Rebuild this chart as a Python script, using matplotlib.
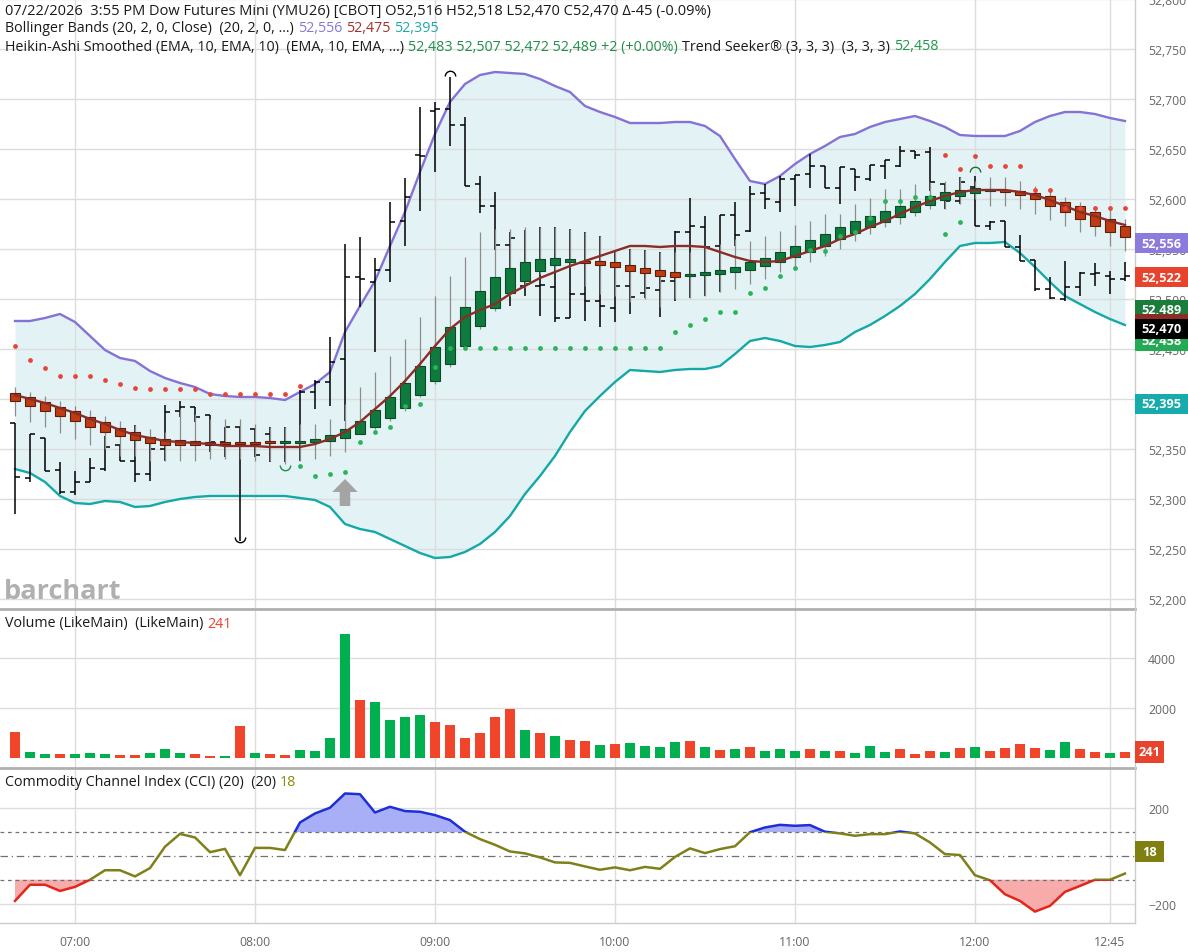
import numpy as np
import pandas as pd
import matplotlib
matplotlib.use("Agg")
import matplotlib.pyplot as plt
from matplotlib.patches import Rectangle, Polygon
from matplotlib.path import Path
from matplotlib.lines import Line2D
from matplotlib.ticker import FuncFormatter

plt.rcParams['font.family'] = ['Open Sans', 'Noto Sans', 'DejaVu Sans']

# ---- 5 minute bars, 06:40 .. 12:50 ----
times = pd.date_range("2026-07-22 06:40", periods=75, freq="5min")
tick_times = ['07:00', '08:00', '09:00', '10:00', '11:00', '12:00', '12:45']

bar_open = [52376, 52321, 52361, 52329, 52307, 52317, 52330, 52354, 52338, 52325,
            52350, 52388, 52392, 52384, 52357, 52372, 52370, 52365, 52357, 52357,
            52407, 52417, 52440, 52522, 52517, 52529, 52578, 52644, 52688, 52690,
            52674, 52615, 52593, 52554, 52513, 52513, 52512, 52481, 52505, 52498,
            52491, 52513, 52506, 52509, 52518, 52567, 52572, 52553, 52584, 52568,
            52606, 52597, 52620, 52625, 52633, 52611, 52630, 52620, 52633, 52633,
            52648, 52647, 52615, 52598, 52612, 52573, 52578, 52552, 52539, 52510,
            52500, 52512, 52525, 52523, 52520]
bar_high = [52376, 52365, 52361, 52337, 52328, 52341, 52363, 52354, 52374, 52362,
            52394, 52398, 52392, 52384, 52372, 52372, 52370, 52372, 52372, 52409,
            52419, 52462, 52555, 52562, 52541, 52597, 52621, 52692, 52697, 52722,
            52682, 52623, 52607, 52567, 52569, 52572, 52572, 52570, 52567, 52563,
            52548, 52550, 52549, 52547, 52568, 52601, 52583, 52584, 52597, 52613,
            52615, 52623, 52624, 52645, 52633, 52632, 52630, 52634, 52639, 52653,
            52648, 52652, 52615, 52622, 52623, 52578, 52578, 52564, 52539, 52522,
            52538, 52527, 52536, 52528, 52537]
bar_low = [52285, 52317, 52328, 52305, 52304, 52317, 52328, 52338, 52317, 52318,
           52338, 52382, 52377, 52347, 52342, 52258, 52342, 52337, 52337, 52338,
           52390, 52393, 52378, 52492, 52447, 52517, 52553, 52588, 52627, 52653,
           52613, 52586, 52549, 52493, 52503, 52483, 52477, 52481, 52478, 52472,
           52477, 52485, 52501, 52482, 52498, 52501, 52503, 52507, 52553, 52567,
           52590, 52587, 52593, 52611, 52611, 52595, 52608, 52618, 52620, 52632,
           52640, 52608, 52590, 52595, 52573, 52569, 52552, 52538, 52508, 52500,
           52498, 52503, 52513, 52505, 52518]
bar_close = [52322, 52365, 52328, 52307, 52317, 52331, 52352, 52338, 52325, 52350,
             52387, 52392, 52382, 52357, 52372, 52355, 52344, 52357, 52357, 52407,
             52417, 52437, 52522, 52520, 52529, 52577, 52602, 52643, 52690, 52674,
             52613, 52593, 52554, 52561, 52515, 52514, 52481, 52505, 52498, 52493,
             52513, 52502, 52511, 52518, 52567, 52573, 52552, 52584, 52564, 52605,
             52600, 52620, 52624, 52633, 52611, 52632, 52622, 52634, 52639, 52648,
             52644, 52617, 52598, 52617, 52573, 52577, 52552, 52538, 52510, 52501,
             52512, 52526, 52526, 52520, 52523]

# Heikin-Ashi smoothed
ha_open = [52406, 52402, 52397, 52392, 52388, 52382, 52377, 52371, 52367, 52362,
           52360, 52359, 52358, 52357, 52357, 52357, 52357, 52358, 52356, 52356,
           52357, 52358, 52361, 52365, 52372, 52381, 52391, 52404, 52418, 52435,
           52453, 52473, 52491, 52506, 52518, 52528, 52534, 52537, 52538, 52538,
           52537, 52534, 52531, 52529, 52527, 52523, 52524, 52525, 52527, 52529,
           52533, 52537, 52542, 52547, 52553, 52560, 52566, 52572, 52577, 52582,
           52587, 52594, 52599, 52603, 52606, 52608, 52609, 52608, 52606, 52603,
           52597, 52593, 52587, 52580, 52573]
ha_close = [52398, 52393, 52388, 52383, 52378, 52372, 52367, 52363, 52359, 52356,
            52354, 52354, 52354, 52354, 52355, 52355, 52355, 52356, 52358, 52358,
            52360, 52364, 52370, 52378, 52389, 52402, 52416, 52433, 52452, 52472,
            52492, 52508, 52522, 52531, 52537, 52540, 52541, 52540, 52536, 52534,
            52532, 52528, 52526, 52523, 52522, 52525, 52527, 52529, 52532, 52537,
            52541, 52547, 52553, 52559, 52565, 52572, 52578, 52583, 52588, 52593,
            52598, 52603, 52607, 52609, 52611, 52610, 52607, 52604, 52600, 52593,
            52587, 52580, 52573, 52567, 52562]
ha_high = [52412, 52407, 52403, 52398, 52393, 52389, 52383, 52378, 52374, 52370,
           52367, 52390, 52385, 52380, 52380, 52380, 52375, 52372, 52372, 52375,
           52375, 52380, 52395, 52412, 52427, 52443, 52460, 52482, 52503, 52523,
           52542, 52567, 52570, 52570, 52572, 52572, 52572, 52570, 52567, 52563,
           52548, 52550, 52549, 52547, 52547, 52547, 52553, 52555, 52560, 52558,
           52563, 52568, 52574, 52578, 52585, 52585, 52595, 52601, 52610, 52610,
           52615, 52617, 52618, 52622, 52618, 52622, 52622, 52618, 52613, 52611,
           52602, 52597, 52593, 52590, 52580]
ha_low = [52383, 52377, 52372, 52366, 52360, 52354, 52350, 52343, 52343, 52338,
          52338, 52338, 52338, 52340, 52340, 52340, 52338, 52338, 52335, 52338,
          52340, 52343, 52347, 52365, 52370, 52378, 52388, 52402, 52415, 52432,
          52450, 52470, 52488, 52503, 52512, 52525, 52527, 52532, 52513, 52505,
          52503, 52497, 52500, 52492, 52500, 52501, 52503, 52507, 52510, 52515,
          52520, 52527, 52530, 52537, 52543, 52550, 52558, 52565, 52572, 52575,
          52583, 52590, 52590, 52595, 52600, 52593, 52593, 52590, 52585, 52579,
          52573, 52567, 52563, 52553, 52548]

# Bollinger bands (20, 2)
bb_upper = [52478, 52478, 52481, 52485, 52477, 52463, 52449, 52441, 52438, 52428,
            52421, 52416, 52412, 52405, 52403, 52402, 52402, 52401, 52399, 52407,
            52415, 52427, 52467, 52493, 52518, 52553, 52587, 52627, 52665, 52697,
            52715, 52724, 52727, 52726, 52725, 52720, 52713, 52707, 52693, 52687,
            52682, 52676, 52676, 52676, 52677, 52677, 52673, 52663, 52640, 52618,
            52615, 52623, 52635, 52645, 52653, 52662, 52665, 52672, 52677, 52680,
            52683, 52678, 52672, 52664, 52663, 52663, 52663, 52668, 52677, 52683,
            52687, 52687, 52685, 52681, 52678]
bb_mid = [52404, 52400, 52396, 52391, 52386, 52380, 52375, 52369, 52364, 52361,
          52358, 52357, 52356, 52355, 52353, 52353, 52353, 52352, 52352, 52352,
          52355, 52360, 52367, 52377, 52390, 52403, 52418, 52435, 52453, 52470,
          52482, 52489, 52495, 52505, 52513, 52521, 52527, 52533, 52538, 52543,
          52548, 52553, 52553, 52552, 52553, 52553, 52552, 52547, 52542, 52538,
          52537, 52538, 52543, 52548, 52553, 52560, 52565, 52572, 52578, 52585,
          52592, 52598, 52603, 52607, 52609, 52609, 52609, 52607, 52604, 52599,
          52593, 52587, 52583, 52578, 52574]
bb_lower = [52330, 52326, 52317, 52303, 52296, 52295, 52298, 52297, 52292, 52293,
            52297, 52300, 52302, 52303, 52303, 52303, 52303, 52303, 52303, 52301,
            52299, 52292, 52275, 52270, 52267, 52260, 52253, 52246, 52241, 52242,
            52247, 52255, 52267, 52283, 52305, 52323, 52343, 52367, 52388, 52403,
            52417, 52429, 52428, 52427, 52429, 52430, 52430, 52433, 52445, 52458,
            52461, 52458, 52453, 52452, 52454, 52457, 52467, 52474, 52483, 52493,
            52505, 52520, 52537, 52553, 52556, 52556, 52557, 52546, 52532, 52517,
            52503, 52495, 52487, 52480, 52474]

# Trend Seeker stops
ts_down_idx = list(range(0, 20)) + list(range(62, 75))
ts_down = [52453, 52439, 52431, 52423, 52423, 52423, 52419, 52415, 52411, 52410,
           52410, 52410, 52410, 52405, 52405, 52405, 52405, 52405, 52405, 52413,
           52644, 52630, 52643, 52633, 52633, 52633, 52609, 52609, 52591, 52591,
           52591, 52591, 52591]
ts_up_idx = list(range(19, 64))
ts_up = [52333, 52323, 52325, 52327, 52357, 52367, 52372, 52393, 52395, 52432,
         52451, 52451, 52451, 52451, 52451, 52451, 52451, 52451, 52451, 52451,
         52451, 52451, 52451, 52451, 52451, 52467, 52474, 52480, 52487, 52487,
         52506, 52511, 52523, 52531, 52549, 52548, 52563, 52567, 52581, 52598,
         52598, 52602, 52602, 52565, 52577]

# swing markers (bar index, price)
swing_lows = [(15, 52262, 'black'), (18, 52334, '#1e8f4a')]
swing_highs = [(29, 52723, 'black'), (64, 52627, '#1e6f3a')]
arrow_idx, arrow_price = 22, 52320

volume = [1030, 230, 150, 150, 160, 200, 160, 120, 120, 210,
          360, 200, 170, 90, 80, 1270, 210, 170, 120, 310,
          290, 800, 4960, 2320, 2250, 1530, 1650, 1730, 1430, 1330,
          800, 1000, 1650, 1950, 1130, 990, 870, 730, 680, 520,
          560, 590, 490, 440, 640, 680, 430, 330, 350, 440,
          290, 350, 290, 350, 270, 270, 190, 470, 250, 350,
          160, 270, 230, 390, 440, 280, 410, 550, 410, 310,
          630, 350, 230, 200, 241]
volume_up = "rggrgggrrgggrrgrgrrggggrggggrrrrrrgrgrrgrggggrgrgrgggrgrgggrrrgrgrrrrggrrg"

cci = [-189, -121, -121, -147, -130, -100, -60, -60, -86, -51,
       39, 93, 78, 16, 30, -81, 34, 34, 25, 141,
       179, 203, 263, 260, 183, 207, 189, 186, 172, 151,
       102, 71, 47, 19, 11, -6, -27, -29, -44, -58,
       -48, -60, -46, -54, -4, 32, 12, 29, 41, 100,
       120, 131, 127, 130, 102, 95, 85, 92, 92, 103,
       95, 57, 8, 4, -81, -102, -161, -189, -234, -210,
       -151, -126, -100, -100, -74]

# ---- figure ----
W, H = 1188, 953
fig = plt.figure(figsize=(W / 100, H / 100), dpi=100)
fig.patch.set_facecolor('white')
RIGHT = 1135


def rect(top, bottom):
    return [0, 1 - bottom / H, RIGHT / W, (bottom - top) / H]


ax = fig.add_axes(rect(0, 610))
axv = fig.add_axes(rect(611, 769))
axc = fig.add_axes(rect(770, 924))

x = np.arange(len(times))
labels = list(times.strftime('%H:%M'))
tick_pos = [labels.index(t) for t in tick_times]
GRID = '#dcdcdc'
TICKC = '#666666'

for a in (ax, axv, axc):
    a.set_xlim(-1, 74.67)
    a.set_xticks(tick_pos)
    a.set_axisbelow(True)
    a.grid(True, color=GRID, lw=1)
    for s in a.spines.values():
        s.set_visible(False)
    a.yaxis.tick_right()
    a.tick_params(axis='y', length=0, pad=9.5, labelsize=8.8, labelcolor=TICKC)
    a.tick_params(axis='x', length=0, labelbottom=False)
axc.tick_params(axis='x', labelbottom=True, labelsize=8.8, labelcolor=TICKC, pad=9)
axc.set_xticklabels(tick_times)

# ---- price panel ----
ax.set_ylim(52190, 52800)
ax.set_yticks(np.arange(52200, 52801, 50))
ax.yaxis.set_major_formatter(FuncFormatter(lambda v, _: f"{v:,.0f}"))

ax.fill_between(x, bb_lower, bb_upper, color='#e3f3f5', lw=0, zorder=0.2)
ax.plot(x, bb_upper, color='#8473d6', lw=1.7, zorder=2)
ax.plot(x, bb_lower, color='#15a8a8', lw=1.7, zorder=2)

o, h, l, c = map(np.array, (bar_open, bar_high, bar_low, bar_close))
ax.vlines(x, l, h, color='black', lw=1.1, zorder=3)
ax.hlines(o, x - 0.35, x, color='black', lw=1.1, zorder=3)
ax.hlines(c, x, x + 0.35, color='black', lw=1.1, zorder=3)

hao, hac = np.array(ha_open), np.array(ha_close)
ax.vlines(x, ha_low, ha_high, color='#8c8c8c', lw=0.9, zorder=3.5)
up = hac >= hao
ax.bar(x[up], (hac - hao)[up], bottom=hao[up], width=0.7, color='#0f7a3d',
       edgecolor='#0a4a26', lw=0.8, zorder=4)
ax.bar(x[~up], (hao - hac)[~up], bottom=hac[~up], width=0.7, color='#bf3b12',
       edgecolor='#5c1d0a', lw=0.8, zorder=4)

ax.plot(x, bb_mid, color='#8c2c26', lw=1.7, zorder=5)

ax.scatter(ts_down_idx, ts_down, s=12, color='#e8443a', lw=0, zorder=6)
ax.scatter(ts_up_idx, ts_up, s=12, color='#2bb35a', lw=0, zorder=6)

arc_low = Path.arc(180, 360)
arc_high = Path.arc(0, 180)
for i, p, col in swing_lows:
    ax.plot(i, p, marker=arc_low, ms=7.5, mfc='none', mec=col, mew=1, zorder=6)
for i, p, col in swing_highs:
    ax.plot(i, p, marker=arc_high, ms=7.5, mfc='none', mec=col, mew=1, zorder=6)

ax.add_patch(Polygon([(arrow_idx, arrow_price), (arrow_idx - 0.85, arrow_price - 13),
                      (arrow_idx - 0.35, arrow_price - 13), (arrow_idx - 0.35, arrow_price - 27),
                      (arrow_idx + 0.35, arrow_price - 27), (arrow_idx + 0.35, arrow_price - 13),
                      (arrow_idx + 0.85, arrow_price - 13)], closed=True,
                     color='#a4a4a4', lw=0, zorder=6))

ax.text(4 / RIGHT, 18 / 610, 'barchart', transform=ax.transAxes, fontsize=19.5,
        fontweight='bold', color='#b0b0b0', ha='left', va='center')

# ---- volume panel ----
axv.set_ylim(-400, 5920)
axv.set_yticks([2000, 4000])
vcol = ['#00b04f' if k == 'g' else '#f0452b' for k in volume_up]
axv.bar(x, volume, width=0.67, color=vcol, lw=0, zorder=2)

# ---- CCI panel ----
axc.set_ylim(-282, 366)
axc.set_yticks([-200, 200])
cv = np.array(cci, dtype=float)
axc.fill_between(x, cv, 100, where=cv >= 100, interpolate=True, color='#a9aff7', lw=0, zorder=1)
axc.fill_between(x, cv, -100, where=cv <= -100, interpolate=True, color='#f7abab', lw=0, zorder=1)
for lev, ls in ((100, (0, (3, 3))), (-100, (0, (3, 3))), (0, (0, (6, 3, 1, 3)))):
    axc.axhline(lev, color='#707070', lw=0.9, ls=ls, zorder=1.5)
segments = [('#80801a', -100, 200), ('#1e2fd8', 100, 2000), ('#e3261a', -2100, 2000)]
for col, y0, hgt in segments:
    ln, = axc.plot(x, cv, color=col, lw=1.8, zorder=3)
    ln.set_clip_path(Rectangle((-5, y0), 100, hgt, transform=axc.transData))

# ---- frame lines ----
fig.add_artist(Line2D([0, RIGHT / W], [1 - 610 / H] * 2, color='#b0b0b0', lw=2))
fig.add_artist(Line2D([0, RIGHT / W], [1 - 769 / H] * 2, color='#b0b0b0', lw=2))
fig.add_artist(Line2D([0, RIGHT / W], [1 - 924 / H] * 2, color='#cccccc', lw=1))
fig.add_artist(Line2D([RIGHT / W] * 2, [1 - 924 / H, 1], color='#cccccc', lw=1))


# ---- value boxes on the right scale ----
def value_box(axis, value, text, bg, k, width=53, height=20):
    yd = axis.transData.transform((0, value))[1]
    fig.add_artist(Rectangle((RIGHT / W, (yd - height / 2) / H), width / W, height / H,
                             transform=fig.transFigure, color=bg, lw=0, zorder=10 + 2 * k))
    fig.text((RIGHT + width / 2) / W, yd / H, text, ha='center', va='center', color='white',
             fontsize=9.2, fontweight='bold', zorder=11 + 2 * k)


value_box(ax, 52395, '52,395', '#17abab', 0)
value_box(ax, 52458, '52,458', '#22aa55', 1)
value_box(ax, 52489, '52,489', '#1c7c3c', 2)
value_box(ax, 52475, '52,475', '#8c2c26', 3)
value_box(ax, 52470, '52,470', '#000000', 4)
value_box(ax, 52522, '52,522', '#e8432d', 5)
value_box(ax, 52556, '52,556', '#8c7bdc', 6)
value_box(axv, 241, '241', '#e8432d', 7, width=29, height=22)
value_box(axc, 18, '18', '#7f7f12', 8, width=29, height=21)


# ---- header texts ----
def write_parts(x_px, y_px, parts, size=10.3):
    renderer = fig.canvas.get_renderer()
    xp = x_px
    for text, color, gap in parts:
        t = fig.text(xp / W, 1 - y_px / H, text, color=color, fontsize=size,
                     ha='left', va='center', zorder=20)
        xp += t.get_window_extent(renderer).width + gap


DARK = '#1a1a1a'
write_parts(5, 11, [("07/22/2026  3:55 PM Dow Futures Mini (YMU26) [CBOT] O52,516 H52,518 "
                     "L52,470 C52,470 \u0394-45 (-0.09%)", DARK, 0)], size=10.5)
write_parts(5, 29, [("Bollinger Bands (20, 2, 0, Close)  (20, 2, 0, ...)", DARK, 4),
                    ("52,556", '#8878d6', 4), ("52,475", '#a8302a', 4), ("52,395", '#22a8a8', 0)])
write_parts(5, 47, [("Heikin-Ashi Smoothed (EMA, 10, EMA, 10)  (EMA, 10, EMA, ...)", DARK, 4),
                    ("52,483 52,507 52,472 52,489 +2 (+0.00%)", '#1f8f4a', 4),
                    ("Trend Seeker\u00ae (3, 3, 3)  (3, 3, 3)", DARK, 4), ("52,458", '#1f9a4a', 0)])
write_parts(5, 624, [("Volume (LikeMain)  (LikeMain)", DARK, 4), ("241", '#e8432d', 0)])
write_parts(5, 783, [("Commodity Channel Index (CCI) (20)  (20)", DARK, 4), ("18", '#8a8a10', 0)])

fig.savefig("out.png", dpi=100, facecolor='white')
